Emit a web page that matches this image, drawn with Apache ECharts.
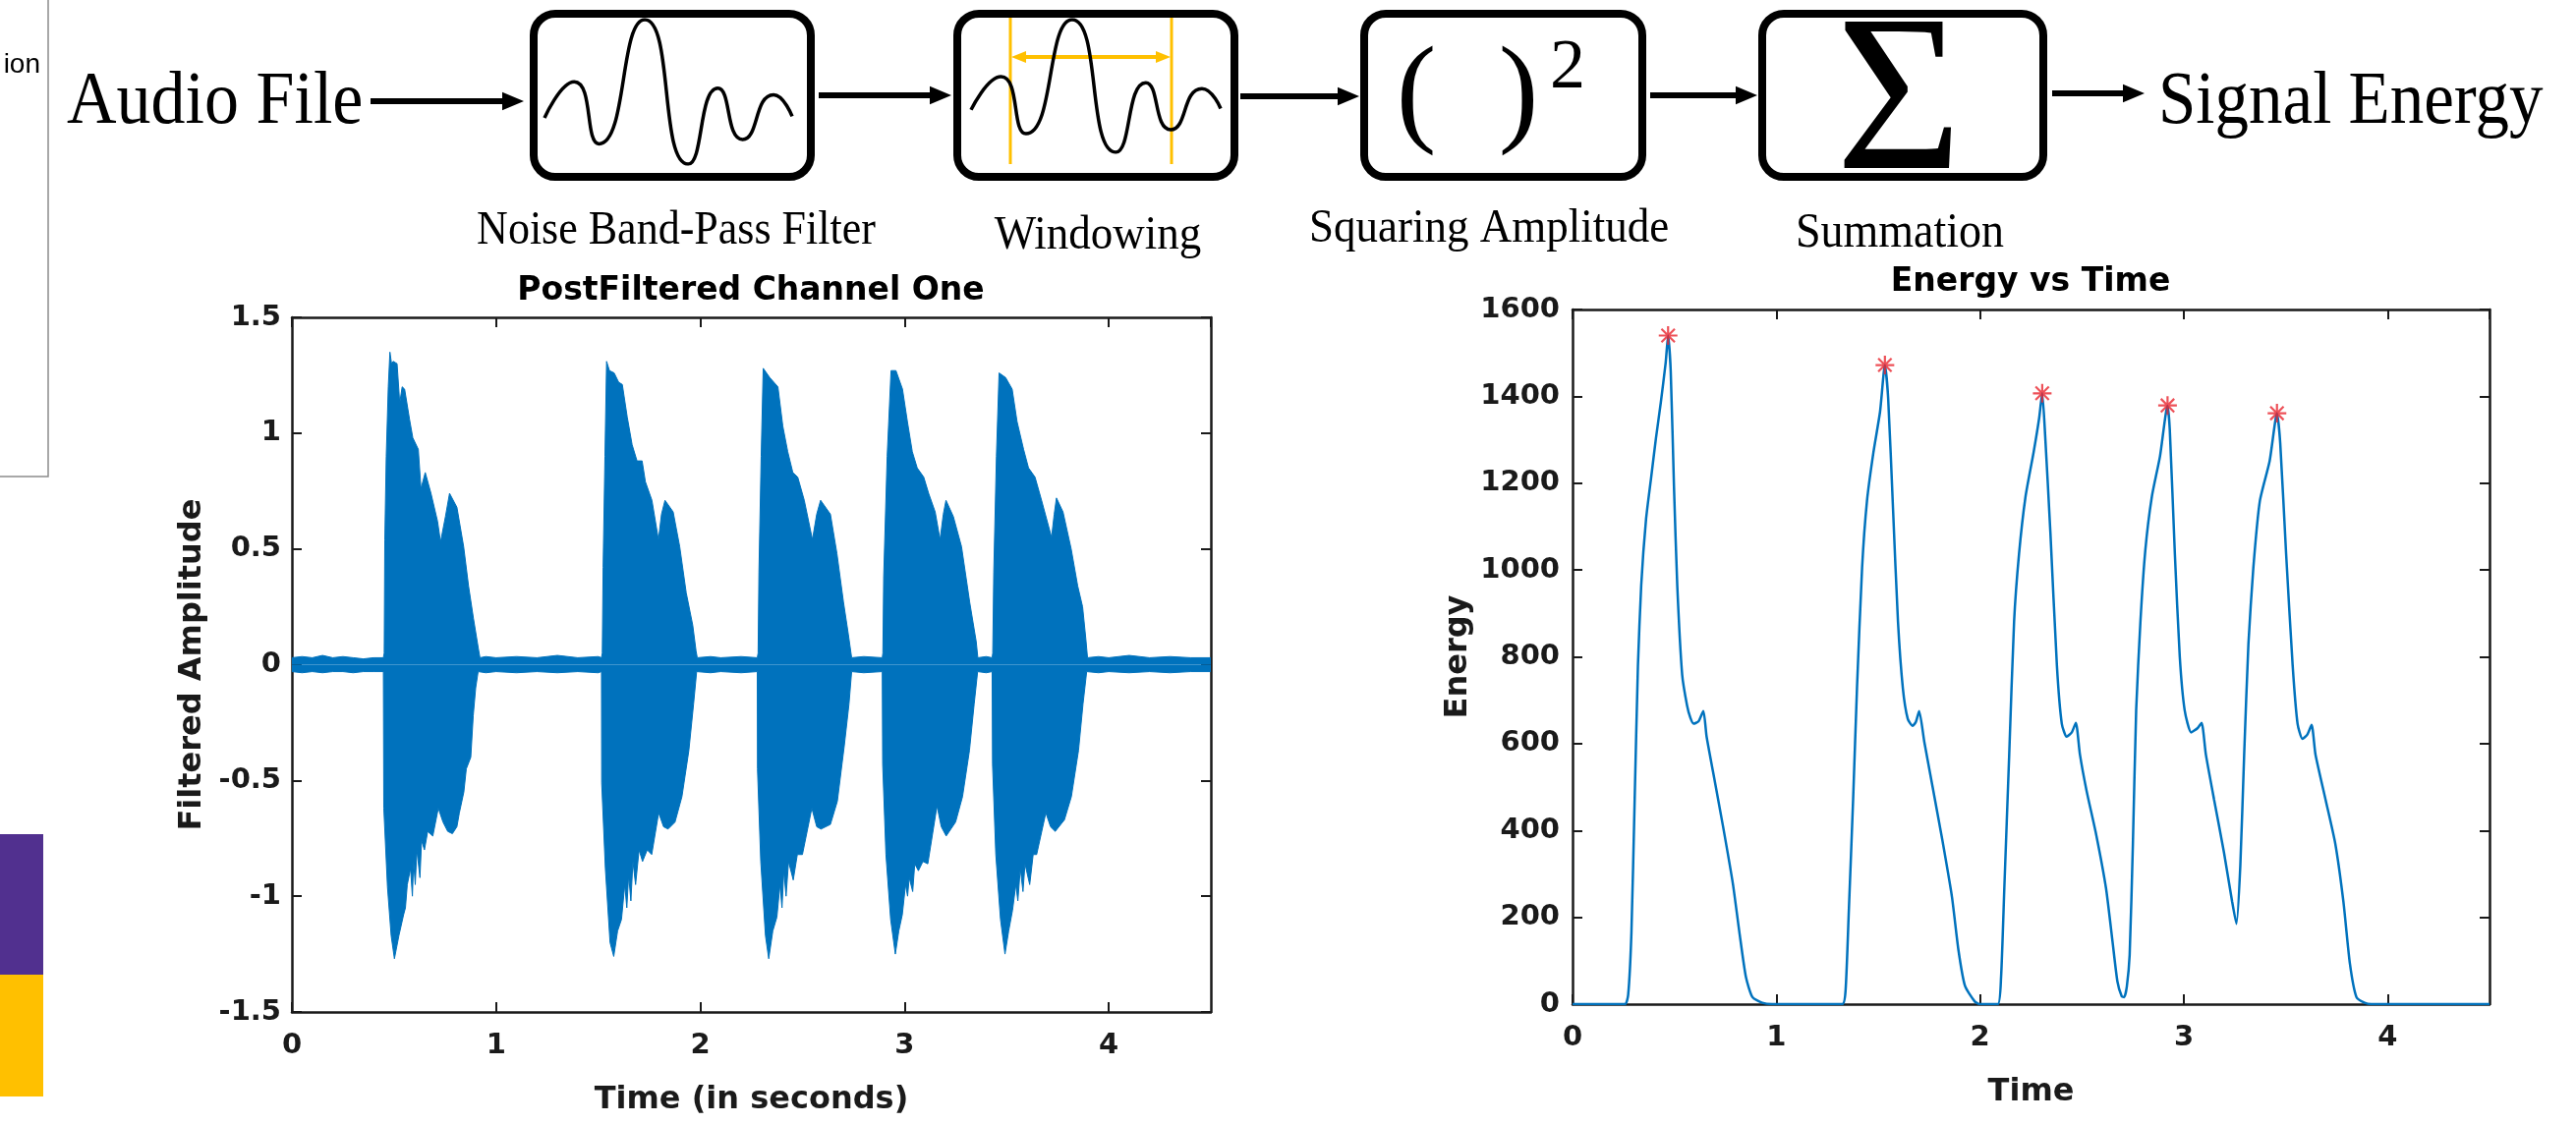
<!DOCTYPE html>
<html>
<head>
<meta charset="utf-8">
<title>Signal Energy</title>
<script src="https://cdn.jsdelivr.net/npm/echarts@6/dist/echarts.min.js"></script>
<style>
html, body { margin: 0; padding: 0; background: #fff; }
#main { width: 2621px; height: 1144px; }
</style>
</head>
<body>
<div id="main"></div>
<script>
// axis ticks
var timeTicks = [0, 1, 2, 3, 4, 4.5];
var ampTicks = [-1.5, -1, -0.5, 0, 0.5, 1, 1.5];
var energyTicks = [0, 200, 400, 600, 800, 1000, 1200, 1400, 1600];

// PostFiltered Channel One : envelope of the waveform [time, amplitude]
var ampUpper = [
  [0, 0.03], [0.05, 0.035], [0.1, 0.03], [0.15, 0.04], [0.2, 0.03], [0.25, 0.035], [0.3, 0.03], [0.35, 0.025], [0.4, 0.03], [0.448, 0.03],
  [0.452, 0.05], [0.455, 0.54], [0.462, 0.9], [0.472, 1.2], [0.480, 1.35], [0.488, 1.30], [0.496, 1.31], [0.515, 1.30], [0.528, 1.13], [0.540, 1.2],
  [0.552, 1.19], [0.576, 1.06], [0.592, 0.98], [0.619, 0.93], [0.632, 0.76], [0.653, 0.83], [0.681, 0.74], [0.713, 0.62], [0.728, 0.53], [0.752, 0.64],
  [0.772, 0.74], [0.808, 0.68], [0.841, 0.51], [0.865, 0.34], [0.889, 0.20], [0.913, 0.07], [0.921, 0.03],
  [0.95, 0.035], [1.0, 0.03], [1.1, 0.035], [1.2, 0.03], [1.3, 0.04], [1.4, 0.03], [1.5, 0.035], [1.516, 0.03],
  [1.520, 0.05], [1.524, 0.42], [1.533, 0.9], [1.541, 1.31], [1.555, 1.27], [1.578, 1.26], [1.600, 1.22], [1.618, 1.21], [1.642, 1.07], [1.666, 0.95],
  [1.690, 0.88], [1.715, 0.88], [1.731, 0.79], [1.763, 0.71], [1.795, 0.54], [1.810, 0.65], [1.827, 0.71], [1.867, 0.66], [1.899, 0.51], [1.931, 0.31],
  [1.963, 0.17], [1.979, 0.06], [1.985, 0.03],
  [2.05, 0.035], [2.1, 0.03], [2.2, 0.035], [2.279, 0.03],
  [2.283, 0.05], [2.287, 0.4], [2.298, 0.9], [2.308, 1.28], [2.340, 1.24], [2.380, 1.20], [2.404, 1.03], [2.428, 0.92], [2.453, 0.83], [2.477, 0.81],
  [2.509, 0.71], [2.549, 0.54], [2.570, 0.65], [2.589, 0.71], [2.637, 0.65], [2.669, 0.48], [2.701, 0.27], [2.725, 0.13], [2.741, 0.03],
  [2.8, 0.035], [2.891, 0.03],
  [2.894, 0.05], [2.898, 0.38], [2.915, 0.9], [2.934, 1.27], [2.958, 1.27], [2.990, 1.19], [3.014, 1.05], [3.038, 0.92], [3.062, 0.85], [3.094, 0.81],
  [3.118, 0.74], [3.150, 0.66], [3.174, 0.54], [3.190, 0.65], [3.203, 0.71], [3.239, 0.64], [3.279, 0.51], [3.319, 0.27], [3.351, 0.10], [3.359, 0.03],
  [3.4, 0.035], [3.429, 0.03],
  [3.432, 0.05], [3.437, 0.40], [3.450, 0.9], [3.463, 1.26], [3.495, 1.24], [3.527, 1.19], [3.551, 1.05], [3.583, 0.93], [3.607, 0.85], [3.639, 0.81],
  [3.671, 0.71], [3.720, 0.55], [3.733, 0.65], [3.744, 0.72], [3.776, 0.66], [3.816, 0.50], [3.848, 0.34], [3.872, 0.25], [3.888, 0.11], [3.896, 0.03],
  [3.95, 0.035], [4.0, 0.03], [4.1, 0.04], [4.2, 0.03], [4.3, 0.035], [4.4, 0.03], [4.5, 0.03]
];
var ampLower = [
  [0, -0.03], [0.05, -0.035], [0.1, -0.03], [0.15, -0.035], [0.2, -0.03], [0.25, -0.03], [0.3, -0.035], [0.35, -0.03], [0.4, -0.03], [0.448, -0.03],
  [0.450, -0.62], [0.468, -0.96], [0.486, -1.17], [0.502, -1.27], [0.524, -1.17], [0.547, -1.08], [0.556, -1.05], [0.565, -0.95], [0.581, -0.88], [0.590, -1.0],
  [0.596, -0.85], [0.604, -0.95], [0.612, -0.80], [0.627, -0.92], [0.635, -0.76], [0.649, -0.80], [0.665, -0.72], [0.690, -0.74], [0.717, -0.62], [0.740, -0.68],
  [0.763, -0.72], [0.786, -0.73], [0.808, -0.70], [0.820, -0.64], [0.842, -0.55], [0.854, -0.45], [0.876, -0.40], [0.888, -0.22], [0.900, -0.10], [0.912, -0.03],
  [0.95, -0.035], [1.0, -0.03], [1.1, -0.035], [1.2, -0.03], [1.3, -0.035], [1.4, -0.03], [1.5, -0.035], [1.516, -0.03],
  [1.517, -0.51], [1.535, -0.88], [1.558, -1.20], [1.576, -1.26], [1.595, -1.15], [1.614, -1.10], [1.630, -0.95], [1.640, -1.05], [1.649, -0.91], [1.660, -1.02],
  [1.670, -0.85], [1.683, -0.95], [1.700, -0.80], [1.717, -0.85], [1.740, -0.80], [1.762, -0.82], [1.796, -0.64], [1.820, -0.70], [1.842, -0.71], [1.876, -0.68],
  [1.910, -0.57], [1.944, -0.37], [1.967, -0.17], [1.982, -0.03],
  [2.05, -0.035], [2.1, -0.03], [2.2, -0.035], [2.279, -0.03],
  [2.280, -0.45], [2.296, -0.85], [2.319, -1.17], [2.335, -1.27], [2.355, -1.15], [2.375, -1.09], [2.390, -0.95], [2.400, -1.05], [2.409, -0.89], [2.420, -1.0],
  [2.432, -0.85], [2.455, -0.93], [2.475, -0.82], [2.500, -0.82], [2.546, -0.62], [2.570, -0.70], [2.591, -0.71], [2.637, -0.69], [2.671, -0.59], [2.705, -0.35],
  [2.728, -0.17], [2.741, -0.03],
  [2.8, -0.035], [2.891, -0.03],
  [2.893, -0.43], [2.909, -0.82], [2.932, -1.10], [2.955, -1.25], [2.972, -1.15], [2.989, -1.08], [3.005, -0.95], [3.015, -1.0], [3.023, -0.92], [3.040, -0.98],
  [3.050, -0.86], [3.068, -0.89], [3.090, -0.85], [3.114, -0.86], [3.159, -0.61], [3.180, -0.70], [3.204, -0.74], [3.250, -0.68], [3.284, -0.57], [3.318, -0.37],
  [3.341, -0.17], [3.358, -0.03],
  [3.4, -0.035], [3.429, -0.03],
  [3.431, -0.43], [3.447, -0.82], [3.470, -1.10], [3.492, -1.25], [3.510, -1.15], [3.529, -1.06], [3.545, -0.95], [3.555, -1.02], [3.567, -0.88], [3.580, -0.98],
  [3.590, -0.86], [3.613, -0.95], [3.630, -0.82], [3.647, -0.82], [3.692, -0.64], [3.715, -0.70], [3.738, -0.72], [3.783, -0.67], [3.817, -0.57], [3.852, -0.37],
  [3.874, -0.17], [3.892, -0.03],
  [3.95, -0.035], [4.0, -0.03], [4.1, -0.035], [4.2, -0.03], [4.3, -0.035], [4.4, -0.03], [4.5, -0.03]
];

// Energy vs Time [time, energy]
var energyCurve = [
  [0, 0], [0.257, 0], [0.273, 21], [0.289, 165], [0.305, 472], [0.321, 780], [0.337, 964], [0.361, 1118], [0.385, 1210], [0.409, 1302],
  [0.433, 1385], [0.457, 1477], [0.469, 1540], [0.482, 1456], [0.498, 1190], [0.514, 964], [0.538, 759], [0.562, 688], [0.578, 660], [0.594, 646],
  [0.618, 651], [0.642, 675], [0.658, 616], [0.690, 534], [0.738, 411], [0.787, 277], [0.819, 165], [0.851, 62], [0.883, 16], [0.931, 3], [0.98, 0],
  [1.324, 0], [1.340, 32], [1.356, 216], [1.377, 472], [1.396, 728], [1.421, 1005], [1.445, 1159], [1.477, 1272], [1.509, 1364], [1.533, 1472],
  [1.549, 1395], [1.573, 1139], [1.597, 882], [1.621, 728], [1.645, 657], [1.669, 641], [1.685, 650], [1.701, 675], [1.726, 605], [1.766, 503],
  [1.814, 380], [1.862, 247], [1.894, 124], [1.926, 42], [1.974, 6], [2.0, 0],
  [2.087, 0], [2.103, 62], [2.119, 267], [2.143, 575], [2.167, 882], [2.191, 1036], [2.223, 1169], [2.263, 1272], [2.290, 1350], [2.305, 1407],
  [2.319, 1313], [2.345, 1087], [2.377, 780], [2.401, 646], [2.425, 616], [2.450, 626], [2.470, 648], [2.490, 575], [2.522, 493], [2.570, 390],
  [2.618, 267], [2.650, 144], [2.674, 52], [2.695, 18], [2.707, 16], [2.720, 40], [2.734, 113], [2.750, 370], [2.766, 677], [2.787, 882],
  [2.811, 1046], [2.843, 1169], [2.883, 1262], [2.920, 1379], [2.931, 1323], [2.956, 1036], [2.980, 800], [3.004, 677], [3.036, 626], [3.068, 636],
  [3.087, 648], [3.108, 575], [3.148, 472], [3.197, 349], [3.237, 236], [3.258, 185], [3.277, 318], [3.296, 575], [3.317, 831], [3.341, 1005],
  [3.373, 1159], [3.421, 1251], [3.457, 1361], [3.473, 1292], [3.502, 1036], [3.534, 780], [3.558, 646], [3.582, 611], [3.606, 621], [3.627, 643],
  [3.646, 575], [3.695, 472], [3.743, 370], [3.783, 236], [3.815, 93], [3.847, 16], [3.887, 3], [3.92, 0], [4.5, 0]
];
var peakTimes = [0.469, 1.533, 2.305, 2.920, 3.457];
var peakEnergy = [1540, 1472, 1407, 1379, 1361];

// wavelet drawn inside the filter / windowing boxes
var waveT = [0, 0.12, 0.22, 0.405, 0.58, 0.70, 0.80, 0.925, 1];
var waveA = [-0.36, 0.14, -0.72, 1.0, -1.0, 0.05, -0.66, -0.04, -0.34];

var blue = '#0072BD';
var axisColor = '#1a1a1a';
var labelFont = 'DejaVu Sans';

var peaks = peakTimes.map(function (t, i) { return [t, peakEnergy[i]]; });
var wave = waveT.map(function (t, i) { return [t, waveA[i]]; });

function first(a) { return a[0]; }
function last(a) { return a[a.length - 1]; }
function plain(v) { return String(v); }   // no thousands separator

// matlab-like box axes: bottom/left with labels, top/right with ticks only
function xAx(grid, ticks, name, gap, pos) {
  var main = pos !== 'top';
  return {
    gridIndex: grid, type: 'value', position: pos || 'bottom',
    min: first(ticks), max: last(ticks), interval: ticks[1] - ticks[0],
    name: main ? name : '', nameLocation: 'middle', nameGap: gap,
    nameTextStyle: { color: axisColor, fontFamily: labelFont, fontWeight: 'bold', fontSize: 32 },
    axisLine: { show: true, onZero: false, lineStyle: { color: axisColor, width: 2.5 } },
    axisTick: { show: true, inside: true, length: 10, lineStyle: { color: axisColor, width: 2 } },
    axisLabel: { show: main, showMaxLabel: false, margin: 20, formatter: plain, color: axisColor, fontFamily: labelFont, fontWeight: 'bold', fontSize: 29 },
    splitLine: { show: false }
  };
}
function yAx(grid, ticks, name, gap, pos, margin) {
  var main = pos !== 'right';
  return {
    gridIndex: grid, type: 'value', position: pos || 'left',
    min: first(ticks), max: last(ticks), interval: ticks[1] - ticks[0],
    name: main ? name : '', nameLocation: 'middle', nameGap: gap, nameRotate: 90,
    nameTextStyle: { color: axisColor, fontFamily: labelFont, fontWeight: 'bold', fontSize: 32 },
    axisLine: { show: true, onZero: false, lineStyle: { color: axisColor, width: 2.5 } },
    axisTick: { show: true, inside: true, length: 10, lineStyle: { color: axisColor, width: 2 } },
    axisLabel: { show: main, margin: margin || 12, formatter: plain, color: axisColor, fontFamily: labelFont, fontWeight: 'bold', fontSize: 29 },
    splitLine: { show: false }
  };
}
function hiddenAx(grid, lo, hi) {
  return { gridIndex: grid, type: 'value', min: lo, max: hi, show: false, splitLine: { show: false } };
}

// block diagram pieces
function arrow(x1, x2, y, color, w, head) {
  return [
    { type: 'line', shape: { x1: x1, y1: y, x2: x2 - head + 2, y2: y }, style: { stroke: color, lineWidth: w } },
    { type: 'polygon', shape: { points: [[x2, y], [x2 - head, y - head * 0.42], [x2 - head, y + head * 0.42]] }, style: { fill: color } }
  ];
}
function box(x, w) {
  return { type: 'rect', z: 1, shape: { x: x, y: 14, width: w, height: 166, r: 22 }, style: { fill: 'none', stroke: '#000', lineWidth: 8 } };
}
function txt(s, x, y, font, align, extra) {
  var el = { type: 'text', z: 5, x: x, y: y, style: { text: s, font: font, fill: '#000', textAlign: align || 'center', textVerticalAlign: 'middle' } };
  if (extra) { for (var k in extra) el[k] = extra[k]; }
  return el;
}
var serif = '"Liberation Serif", "Times New Roman", serif';
var gold = '#FFC000';

var graphics = [
  // bits of the neighbouring slide content cut off at the left edge
  { type: 'rect', shape: { x: -10, y: -10, width: 59, height: 495 }, style: { fill: 'none', stroke: '#8c8c8c', lineWidth: 1.5 } },
  txt('ion', 41, 66, '28px "Liberation Sans"', 'right'),
  { type: 'rect', shape: { x: 0, y: 849, width: 44, height: 143 }, style: { fill: '#51308f' } },
  { type: 'rect', shape: { x: 0, y: 992, width: 44, height: 124 }, style: { fill: '#ffc000' } },

  box(543, 282), box(974, 282), box(1388, 283), box(1793, 286),
  txt('Audio File', 68, 105, '70px ' + serif, 'left', { scaleY: 1.1 }),
  txt('Signal Energy', 2196, 105, '69px ' + serif, 'left', { scaleY: 1.1 }),
  txt('Noise Band-Pass Filter', 688, 235, '44px ' + serif, 'center', { scaleY: 1.1 }),
  txt('Windowing', 1117, 240, '45px ' + serif, 'center', { scaleY: 1.1 }),
  txt('Squaring Amplitude', 1515, 233, '45px ' + serif, 'center', { scaleY: 1.1 }),
  txt('Summation', 1933, 238, '46px ' + serif, 'center', { scaleY: 1.1 }),
  txt('(', 1441, 100, '122px ' + serif),
  txt(')', 1545, 100, '122px ' + serif),
  txt('2', 1595, 70, '72px ' + serif),
  txt('\u03A3', 1932, 111, '227px ' + serif, 'center', { scaleX: 0.97 }),

  // window markers
  { type: 'line', z: 4, shape: { x1: 1028, y1: 18, x2: 1028, y2: 167 }, style: { stroke: gold, lineWidth: 3 } },
  { type: 'line', z: 4, shape: { x1: 1192, y1: 18, x2: 1192, y2: 167 }, style: { stroke: gold, lineWidth: 3 } },
  { type: 'line', z: 4, shape: { x1: 1040, y1: 58, x2: 1180, y2: 58 }, style: { stroke: gold, lineWidth: 4 } },
  { type: 'polygon', z: 4, shape: { points: [[1029, 58], [1044, 52], [1044, 64]] }, style: { fill: gold } },
  { type: 'polygon', z: 4, shape: { points: [[1191, 58], [1176, 52], [1176, 64]] }, style: { fill: gold } },

  // titles of the two plots
  txt('PostFiltered Channel One', 764, 296, 'bold 33px "' + labelFont + '"'),
  txt('Energy vs Time', 2066, 287, 'bold 33px "' + labelFont + '"')
];
graphics = graphics.concat(
  arrow(377, 533, 103, '#000', 6, 22),
  arrow(833, 968, 97, '#000', 6, 22),
  arrow(1262, 1383, 98, '#000', 6, 22),
  arrow(1679, 1788, 97, '#000', 6, 22),
  arrow(2088, 2182, 95, '#000', 6, 22)
);

var myChart = echarts.init(document.getElementById('main'));
var option = {
  animation: false,
  backgroundColor: '#fff',
  grid: [
    { left: 297, top: 323, width: 935, height: 707 },
    { left: 1600, top: 315, width: 933, height: 707 },
    { left: 554, top: 20, width: 252, height: 147 },
    { left: 988, top: 20, width: 254, height: 135 }
  ],
  xAxis: [
    xAx(0, timeTicks, 'Time (in seconds)', 74),
    xAx(0, timeTicks, '', 0, 'top'),
    xAx(1, timeTicks, 'Time', 74),
    xAx(1, timeTicks, '', 0, 'top'),
    hiddenAx(2, 0, 1),
    hiddenAx(3, 0, 1)
  ],
  yAxis: [
    yAx(0, ampTicks, 'Filtered Amplitude', 85, 'left', 11),
    yAx(0, ampTicks, '', 0, 'right'),
    yAx(1, energyTicks, 'Energy', 100, 'left', 13),
    yAx(1, energyTicks, '', 0, 'right'),
    hiddenAx(2, -1, 1),
    hiddenAx(3, -1, 1)
  ],
  graphic: { elements: graphics },
  series: [
    {
      name: 'upper', type: 'line', xAxisIndex: 0, yAxisIndex: 0, data: ampUpper,
      showSymbol: false, silent: true,
      lineStyle: { color: blue, width: 1 },
      areaStyle: { color: blue, opacity: 1 }
    },
    {
      name: 'lower', type: 'line', xAxisIndex: 0, yAxisIndex: 0, data: ampLower,
      showSymbol: false, silent: true,
      lineStyle: { color: blue, width: 1 },
      areaStyle: { color: blue, opacity: 1 }
    },
    {
      name: 'energy', type: 'line', xAxisIndex: 2, yAxisIndex: 2, data: energyCurve,
      showSymbol: false, silent: true, smooth: 0.2,
      lineStyle: { color: blue, width: 2.5 }
    },
    {
      name: 'peaks', type: 'scatter', xAxisIndex: 2, yAxisIndex: 2, data: peaks, z: 5,
      symbol: 'path://M0,-8L0,8M-8,0L8,0M-5.7,-5.7L5.7,5.7M-5.7,5.7L5.7,-5.7',
      symbolSize: 19,
      itemStyle: { color: 'none', borderColor: '#e8262e', borderWidth: 2.2 }
    },
    {
      name: 'wave1', type: 'line', xAxisIndex: 4, yAxisIndex: 4, data: wave,
      smooth: 0.6, showSymbol: false, silent: true, z: 6,
      lineStyle: { color: '#000', width: 3.5 }
    },
    {
      name: 'wave2', type: 'line', xAxisIndex: 5, yAxisIndex: 5, data: wave,
      smooth: 0.6, showSymbol: false, silent: true, z: 6,
      lineStyle: { color: '#000', width: 3.5 }
    }
  ]
};
myChart.setOption(option);
</script>
</body>
</html>
